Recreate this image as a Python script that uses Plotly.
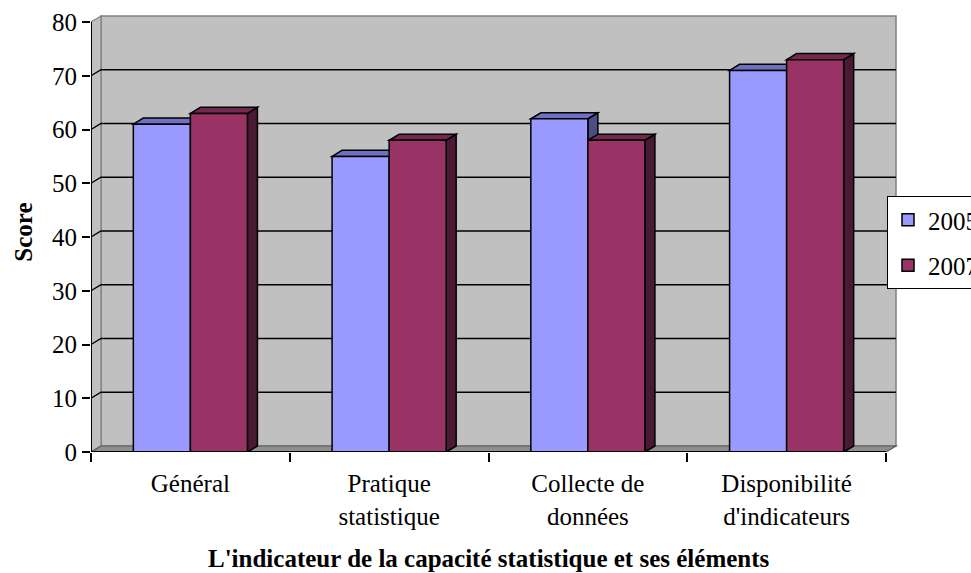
import plotly.graph_objects as go

# ---- data -------------------------------------------------------------
categories = ["Général", "Pratique<br>statistique", "Collecte de<br>données",
              "Disponibilité<br>d'indicateurs"]
series_names = ["2005", "2007"]
scores_2005 = [61, 55, 62, 71]
scores_2007 = [63, 58, 58, 73]
y_tick_values = [0, 10, 20, 30, 40, 50, 60, 70, 80]
x_title = "L'indicateur de la capacité statistique et ses éléments"
y_title = "Score"

# ---- styling ----------------------------------------------------------
FONT = "'Liberation Serif', 'Times New Roman', serif"
FRONT = {"2005": "#9999FF", "2007": "#993366"}
TOP = {"2005": "#7070C0", "2007": "#74284E"}
SIDE = {"2005": "#4D4D85", "2007": "#4A1A34"}
WALL = "#C0C0C0"
WALL_EDGE = "#808080"
FLOOR = "#8F8F8F"

# plot-area geometry (pixels) and the pseudo-3D depth offset
LEFT, RIGHT, TOP_PX, BOTTOM = 91, 900, 12, 452
PX_PER_CAT = 198.75
PX_PER_UNIT = 5.375
DEPTH_X_PX, DEPTH_Y_PX = 10, 6

x_range = [-0.5, -0.5 + (RIGHT - LEFT) / PX_PER_CAT]
y_range = [0, (BOTTOM - TOP_PX) / PX_PER_UNIT]
DX = DEPTH_X_PX / PX_PER_CAT
DY = DEPTH_Y_PX / PX_PER_UNIT
BAR_W = 0.287
n = len(categories)
x_lo, x_hi = -0.5, n - 0.5
y_max = y_tick_values[-1]


def poly(points, closed=True):
    d = "M " + " L ".join(f"{x:.5f},{y:.5f}" for x, y in points)
    return d + (" Z" if closed else "")


shapes = []
# back wall, left wall, floor
shapes.append(dict(type="path", layer="below", xref="x", yref="y",
                   path=poly([(x_lo + DX, DY), (x_hi + DX, DY),
                              (x_hi + DX, y_max + DY), (x_lo + DX, y_max + DY)]),
                   fillcolor=WALL, line=dict(color=WALL_EDGE, width=1.5)))
shapes.append(dict(type="path", layer="below", xref="x", yref="y",
                   path=poly([(x_lo, 0), (x_lo + DX, DY),
                              (x_lo + DX, y_max + DY), (x_lo, y_max)]),
                   fillcolor=WALL, line=dict(color=WALL_EDGE, width=1.2)))
shapes.append(dict(type="path", layer="below", xref="x", yref="y",
                   path=poly([(x_lo, 0), (x_hi, 0), (x_hi + DX, DY), (x_lo + DX, DY)]),
                   fillcolor=FLOOR, line=dict(color="#5A5A5A", width=1.2)))
# gridlines running along the side wall and the back wall
for v in y_tick_values[1:-1]:
    shapes.append(dict(type="path", layer="below", xref="x", yref="y",
                       path=poly([(x_lo, v), (x_lo + DX, v + DY), (x_hi + DX, v + DY)],
                                 closed=False),
                       fillcolor="rgba(0,0,0,0)", line=dict(color="black", width=1.4)))

# top and side faces of every column
for name, values, offset in (("2005", scores_2005, -BAR_W), ("2007", scores_2007, 0.0)):
    for i, v in enumerate(values):
        x0 = i + offset
        x1 = x0 + BAR_W
        shapes.append(dict(type="path", layer="between", xref="x", yref="y",
                           path=poly([(x1, 0), (x1, v), (x1 + DX, v + DY), (x1 + DX, DY)]),
                           fillcolor=SIDE[name], line=dict(color="black", width=1.5)))
        shapes.append(dict(type="path", layer="between", xref="x", yref="y",
                           path=poly([(x0, v), (x1, v), (x1 + DX, v + DY), (x0 + DX, v + DY)]),
                           fillcolor=TOP[name], line=dict(color="black", width=1.5)))

# front axis lines
shapes.append(dict(type="line", layer="above", xref="x", yref="y",
                   x0=x_lo, x1=x_lo, y0=0, y1=y_max, line=dict(color="black", width=2)))
shapes.append(dict(type="line", layer="above", xref="x", yref="y",
                   x0=x_lo, x1=x_hi, y0=0, y1=0, line=dict(color="black", width=2)))

fig = go.Figure()
for name, values, offset in (("2005", scores_2005, -BAR_W), ("2007", scores_2007, 0.0)):
    fig.add_trace(go.Bar(
        x=list(range(n)), y=values, name=name, legendgroup=name,
        width=BAR_W, offset=offset,
        marker=dict(color=FRONT[name], line=dict(color="black", width=1.5)),
    ))

fig.update_layout(
    width=971, height=573,
    margin=dict(l=LEFT, r=971 - RIGHT, t=TOP_PX, b=573 - BOTTOM, autoexpand=False),
    paper_bgcolor="white", plot_bgcolor="white",
    barmode="overlay",
    font=dict(family=FONT, size=25, color="black"),
    shapes=shapes,
    showlegend=True,
    legend=dict(
        x=(887 - LEFT) / (RIGHT - LEFT), xanchor="left",
        y=(BOTTOM - 196) / (BOTTOM - TOP_PX), yanchor="top",
        bgcolor="white", bordercolor="black", borderwidth=1,
        font=dict(family=FONT, size=25, color="black"),
        traceorder="grouped", tracegroupgap=10,
    ),
    xaxis=dict(
        range=x_range, showgrid=False, zeroline=False, showline=False,
        tickmode="array", tickvals=list(range(n)), ticktext=categories,
        ticks="", ticklabelstandoff=14,
        tickfont=dict(family=FONT, size=25, color="black"),
        minor=dict(tickmode="array", tickvals=[k - 0.5 for k in range(n + 1)],
                   ticks="outside", ticklen=9, tickwidth=2, tickcolor="black",
                   showgrid=False),
    ),
    yaxis=dict(
        range=y_range, showgrid=False, zeroline=False, showline=False,
        tickmode="array", tickvals=y_tick_values,
        ticks="outside", ticklen=8, tickwidth=2, tickcolor="black",
        tickfont=dict(family=FONT, size=25, color="black"),
        title=dict(text=y_title, standoff=12,
                   font=dict(family=FONT, size=25, color="black", weight="bold")),
    ),
    annotations=[dict(
        text=x_title, xref="x", yref="paper", x=(x_lo + x_hi) / 2, y=0,
        yshift=-106, xanchor="center", yanchor="middle", showarrow=False,
        font=dict(family=FONT, size=25, color="black", weight="bold"),
    )],
)

fig.write_html("out.html")
